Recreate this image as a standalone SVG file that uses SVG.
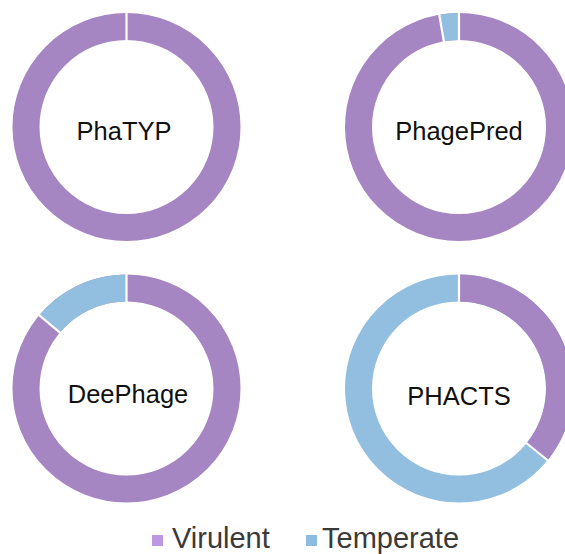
<svg xmlns="http://www.w3.org/2000/svg" width="565" height="554" viewBox="0 0 565 554">
<style>
.ring{fill:none;stroke-width:27}
.vir{stroke:#A585C2}
.tmp{stroke:#92BEE0}
.vf{fill:#A585C2}
.tf{fill:#92BEE0}
.sep{stroke:#ffffff;stroke-width:2.2}
.lbl{font-family:"Liberation Sans",Arial,sans-serif;font-size:25.5px;fill:#111111;text-anchor:middle}
.leg{font-family:"Liberation Sans",Arial,sans-serif;font-size:29px;fill:#3a3a3a}
</style>
<rect width="565" height="554" fill="#ffffff"/>
<g id="phatyp">
<circle class="ring vir" cx="126.5" cy="127" r="100.5"/>
<line class="sep" x1="126.5" y1="11" x2="126.5" y2="42"/>
<text class="lbl" x="124" y="140">PhaTYP</text>
</g>
<g id="phagepred">
<circle class="ring vir" cx="459" cy="127" r="100.5"/>
<path class="tf" d="M439.2,14.7 A114,114 0 0 1 459,13 L459,40 A87,87 0 0 0 443.9,41.3 Z"/>
<line class="sep" x1="459" y1="11" x2="459" y2="42"/>
<line class="sep" x1="438.9" y1="12.7" x2="444.2" y2="43.3"/>
<text class="lbl" x="459" y="140">PhagePred</text>
</g>
<g id="deephage">
<circle class="ring vir" cx="126.5" cy="388.5" r="100.5"/>
<path class="tf" d="M39.2,315.2 A114,114 0 0 1 126.5,274.5 L126.5,301.5 A87,87 0 0 0 59.9,332.6 Z"/>
<line class="sep" x1="126.5" y1="272.5" x2="126.5" y2="303.5"/>
<line class="sep" x1="37.6" y1="313.9" x2="61.4" y2="333.9"/>
<text class="lbl" x="128" y="403">DeePhage</text>
</g>
<g id="phacts">
<circle class="ring tmp" cx="459" cy="388.5" r="100.5"/>
<path class="vf" d="M459,274.5 A114,114 0 0 1 547.6,460.2 L526.6,443.3 A87,87 0 0 0 459,301.5 Z"/>
<line class="sep" x1="459" y1="272.5" x2="459" y2="303.5"/>
<line class="sep" x1="549.2" y1="461.5" x2="525.0" y2="442.0"/>
<text class="lbl" x="459" y="405">PHACTS</text>
</g>
<g id="legend">
<rect x="152" y="535" width="11" height="11" fill="#BE97E3"/>
<text class="leg" x="172" y="548">Virulent</text>
<rect x="306" y="535" width="11" height="11" fill="#8DBCE0"/>
<text class="leg" x="322" y="548">Temperate</text>
</g>
</svg>
